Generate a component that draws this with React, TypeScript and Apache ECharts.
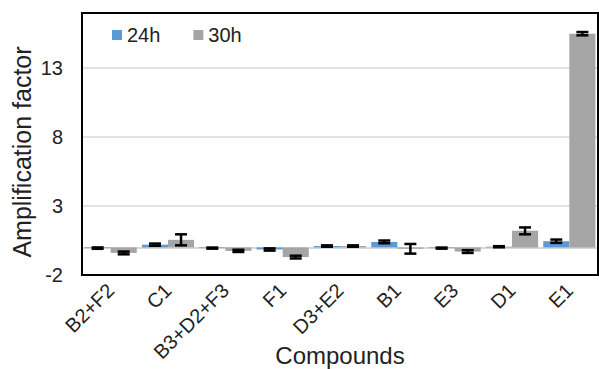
import React, { useEffect, useRef } from "react";
import * as echarts from "echarts";

const categories = ["B2+F2", "C1", "B3+D2+F3", "F1", "D3+E2", "B1", "E3", "D1", "E1"];
const values24h = [-0.05, 0.2, -0.05, -0.15, 0.1, 0.4, -0.05, 0.05, 0.45];
const values30h = [-0.4, 0.55, -0.25, -0.7, 0.1, -0.1, -0.3, 1.2, 15.5];
const errors24h = [0.05, 0.08, 0.04, 0.08, 0.05, 0.1, 0.04, 0.04, 0.12];
const errors30h = [0.1, 0.4, 0.08, 0.1, 0.05, 0.35, 0.1, 0.25, 0.12];
const yTicks = [-2, 3, 8, 13];

const CAT_GAP = 0.09;
const GRID = { left: 82, top: 13, width: 516, height: 262 };

function errorSeries(name: string, vals: number[], errs: number[], side: number) {
  return {
    type: "custom",
    name: name + "-err",
    silent: true,
    z: 5,
    data: vals.map((v, i) => [i, v, errs[i]]),
    renderItem: (params: any, api: any) => {
      const i = api.value(0);
      const v = api.value(1);
      const e = api.value(2);
      const band = api.size([1, 0])[0];
      const off = (side * band * (1 - CAT_GAP)) / 4;
      const hi = api.coord([i, v + e]);
      const lo = api.coord([i, v - e]);
      const x = hi[0] + off;
      const cap = 6;
      const style = { stroke: "#000", lineWidth: 2.5 };
      return {
        type: "group",
        children: [
          { type: "line", shape: { x1: x, y1: hi[1], x2: x, y2: lo[1] }, style },
          { type: "line", shape: { x1: x - cap, y1: hi[1], x2: x + cap, y2: hi[1] }, style },
          { type: "line", shape: { x1: x - cap, y1: lo[1], x2: x + cap, y2: lo[1] }, style },
        ],
      };
    },
  };
}

export default function App() {
  const ref = useRef<HTMLDivElement>(null);
  useEffect(() => {
    if (!ref.current) return;
    const chart = echarts.init(ref.current, undefined, { renderer: "svg" });
    const font = "Liberation Sans, Arial, sans-serif";
    chart.setOption({
      animation: false,
      textStyle: { fontFamily: font },
      legend: {
        data: [
          { name: "24h", icon: "rect" },
          { name: "30h", icon: "rect" },
        ],
        left: 112,
        top: 25,
        padding: 0,
        itemWidth: 10,
        itemHeight: 10,
        itemGap: 33,
        textStyle: { fontSize: 20, color: "#222", fontFamily: font },
      },
      grid: {
        left: GRID.left,
        top: GRID.top,
        width: GRID.width,
        height: GRID.height,
        outerBoundsMode: "none",
        containLabel: false,
      },
      graphic: [
        {
          type: "rect",
          z: 100,
          silent: true,
          shape: { x: GRID.left, y: GRID.top, width: GRID.width, height: GRID.height },
          style: { fill: "none", stroke: "#000", lineWidth: 2 },
        },
      ],
      xAxis: {
        type: "category",
        data: categories,
        name: "Compounds",
        nameLocation: "middle",
        nameGap: 68,
        nameMoveOverlap: false,
        nameTextStyle: { fontSize: 24, color: "#222", fontFamily: font },
        axisLine: { onZero: false, show: false },
        axisTick: { show: false },
        axisLabel: {
          rotate: 45,
          fontSize: 20,
          color: "#222",
          margin: 12,
          interval: 0,
          fontFamily: font,
        },
      },
      yAxis: {
        type: "value",
        min: -2,
        max: 17,
        interval: 5,
        name: "Amplification factor",
        nameLocation: "middle",
        nameGap: 48,
        nameMoveOverlap: false,
        nameTextStyle: { fontSize: 25, color: "#222", fontFamily: font, padding: [0, 16, 0, 0] },
        axisLine: { show: false },
        axisTick: { show: false },
        splitLine: { lineStyle: { color: "#d9d9d9", width: 1.5 } },
        axisLabel: {
          fontSize: 20,
          color: "#222",
          margin: 19,
          fontFamily: font,
          formatter: (v: number) => (yTicks.includes(v) ? String(v) : ""),
        },
      },
      series: [
        {
          name: "24h",
          type: "bar",
          data: values24h,
          barGap: "0%",
          barCategoryGap: CAT_GAP * 100 + "%",
          itemStyle: { color: "#5b9bd5" },
          markLine: {
            silent: true,
            symbol: "none",
            label: { show: false },
            lineStyle: { color: "#d9d9d9", width: 2, type: "solid" },
            data: [{ yAxis: 0 }],
            z: 1,
          },
        },
        {
          name: "30h",
          type: "bar",
          data: values30h,
          barGap: "0%",
          barCategoryGap: CAT_GAP * 100 + "%",
          itemStyle: { color: "#a5a5a5" },
        },
        errorSeries("24h", values24h, errors24h, -1),
        errorSeries("30h", values30h, errors30h, 1),
      ],
    });
    return () => chart.dispose();
  }, []);
  return (
    <div
      ref={ref}
      style={{ position: "fixed", left: 0, top: 0, width: 599, height: 369, background: "#fff" }}
    />
  );
}
